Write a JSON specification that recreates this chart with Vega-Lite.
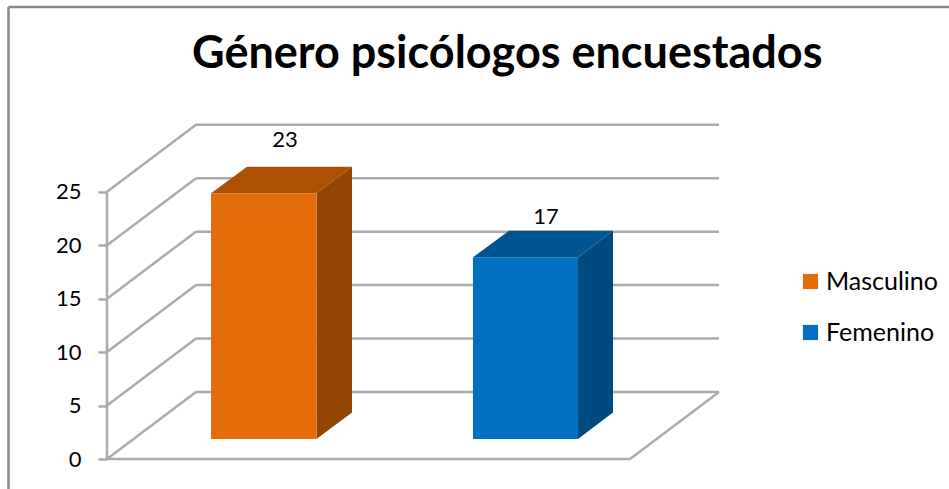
{
"$schema":"https://vega.github.io/schema/vega-lite/v6.json",
"autosize":{"type":"none"},
"padding":{"left":107,"top":124,"right":230,"bottom":30},
"width":612,"height":335,
"background":"#ffffff",
"config":{"view":{"stroke":null},"font":"Lato"},
"title":{"text":"Género psicólogos encuestados","font":"Lato","fontSize":45,"fontWeight":"bold","color":"#000000","anchor":"start","frame":"group","dx":85,"offset":0,"dy":71},
"datasets":{
"lines":[
{"kind":"frame","x":-16.1,"x2":-16.1,"y":-2.81,"y2":42.28},
{"kind":"frame","x":-16.1,"x2":137.6,"y":42.28,"y2":42.28},
{"kind":"wall","x":14.54,"x2":100,"y":6.27,"y2":6.27},
{"kind":"wall","x":14.54,"x2":100,"y":11.27,"y2":11.27},
{"kind":"wall","x":14.54,"x2":100,"y":16.27,"y2":16.27},
{"kind":"wall","x":14.54,"x2":100,"y":21.27,"y2":21.27},
{"kind":"wall","x":14.54,"x2":100,"y":26.27,"y2":26.27},
{"kind":"wall","x":14.54,"x2":100,"y":31.27,"y2":31.27},
{"kind":"wall","x":0,"x2":14.54,"y":0,"y2":6.27},
{"kind":"wall","x":0,"x2":14.54,"y":5,"y2":11.27},
{"kind":"wall","x":0,"x2":14.54,"y":10,"y2":16.27},
{"kind":"wall","x":0,"x2":14.54,"y":15,"y2":21.27},
{"kind":"wall","x":0,"x2":14.54,"y":20,"y2":26.27},
{"kind":"wall","x":0,"x2":14.54,"y":25,"y2":31.27},
{"kind":"wall","x":0,"x2":0,"y":0,"y2":25},
{"kind":"wall","x":0,"x2":85.46,"y":0,"y2":0},
{"kind":"wall","x":85.46,"x2":100,"y":0,"y2":6.27}
],
"fronts":[
{"genero":"Masculino","valor":23,"x":17.0,"x2":34.23,"y":1.87,"y2":24.87,"lx":29.08,"ly":29.84},
{"genero":"Femenino","valor":17,"x":59.8,"x2":76.96,"y":1.87,"y2":18.87,"lx":71.73,"ly":22.64}
],
"sides":[
{"genero":"Masculino","x":34.23,"y":1.87,"y2":24.87},
{"genero":"Masculino","x":40.03,"y":4.35,"y2":27.35},
{"genero":"Femenino","x":76.96,"y":1.87,"y2":18.87},
{"genero":"Femenino","x":82.68,"y":4.35,"y2":21.35}
],
"tops":[
{"genero":"Masculino","x":17.0,"y":24.87,"y2":24.87},
{"genero":"Masculino","x":22.88,"y":27.35,"y2":24.87},
{"genero":"Masculino","x":34.23,"y":27.35,"y2":24.87},
{"genero":"Masculino","x":40.03,"y":27.35,"y2":27.35},
{"genero":"Femenino","x":59.8,"y":18.87,"y2":18.87},
{"genero":"Femenino","x":65.69,"y":21.35,"y2":18.87},
{"genero":"Femenino","x":76.96,"y":21.35,"y2":18.87},
{"genero":"Femenino","x":82.68,"y":21.35,"y2":21.35}
]
},
"encoding":{
"x":{"field":"x","type":"quantitative","scale":{"domain":[0,100],"nice":false,"zero":false},"axis":null},
"y":{"field":"y","type":"quantitative","scale":{"domain":[0,31.34],"nice":false,"zero":false},
"axis":{"title":null,"values":[0,5,10,15,20,25],"domain":false,"grid":false,"ticks":true,"tickSize":9,"tickColor":"#a8a8a8","tickWidth":2.5,"labelFont":"Lato","labelFontSize":22,"labelColor":"#000000","labelPadding":17}}
},
"layer":[
{"data":{"name":"lines"},"transform":[{"filter":"datum.kind==='frame'"}],"mark":{"type":"rule","color":"#868686","strokeWidth":2.5},"encoding":{"x2":{"field":"x2"},"y2":{"field":"y2"}}},
{"data":{"name":"lines"},"transform":[{"filter":"datum.kind==='wall'"}],"mark":{"type":"rule","color":"#ababab","strokeWidth":2.5},"encoding":{"x2":{"field":"x2"},"y2":{"field":"y2"}}},
{"data":{"name":"sides"},"transform":[{"filter":"datum.genero==='Masculino'"}],"mark":{"type":"area","color":"#934503"},"encoding":{"y2":{"field":"y2"}}},
{"data":{"name":"sides"},"transform":[{"filter":"datum.genero==='Femenino'"}],"mark":{"type":"area","color":"#004a80"},"encoding":{"y2":{"field":"y2"}}},
{"data":{"name":"tops"},"transform":[{"filter":"datum.genero==='Masculino'"}],"mark":{"type":"area","color":"#ad5104"},"encoding":{"y2":{"field":"y2"}}},
{"data":{"name":"tops"},"transform":[{"filter":"datum.genero==='Femenino'"}],"mark":{"type":"area","color":"#005591"},"encoding":{"y2":{"field":"y2"}}},
{"data":{"name":"fronts"},"mark":{"type":"rect"},"encoding":{"x2":{"field":"x2"},"y2":{"field":"y2"},
"color":{"field":"genero","type":"nominal","scale":{"domain":["Masculino","Femenino"],"range":["#e46c0a","#0070c0"]},
"legend":{"title":null,"orient":"none","legendX":691,"legendY":145,"symbolType":"square","symbolSize":230,"labelFont":"Lato","labelFontSize":25,"labelColor":"#000000","labelOffset":3,"rowPadding":25,"symbolStrokeWidth":0}}}},
{"data":{"name":"fronts"},"mark":{"type":"text","font":"Lato","fontSize":22,"color":"#000000","baseline":"middle","align":"center"},"encoding":{"x":{"field":"lx","type":"quantitative"},"y":{"field":"ly","type":"quantitative"},"text":{"field":"valor","type":"quantitative"}}}
]
}
